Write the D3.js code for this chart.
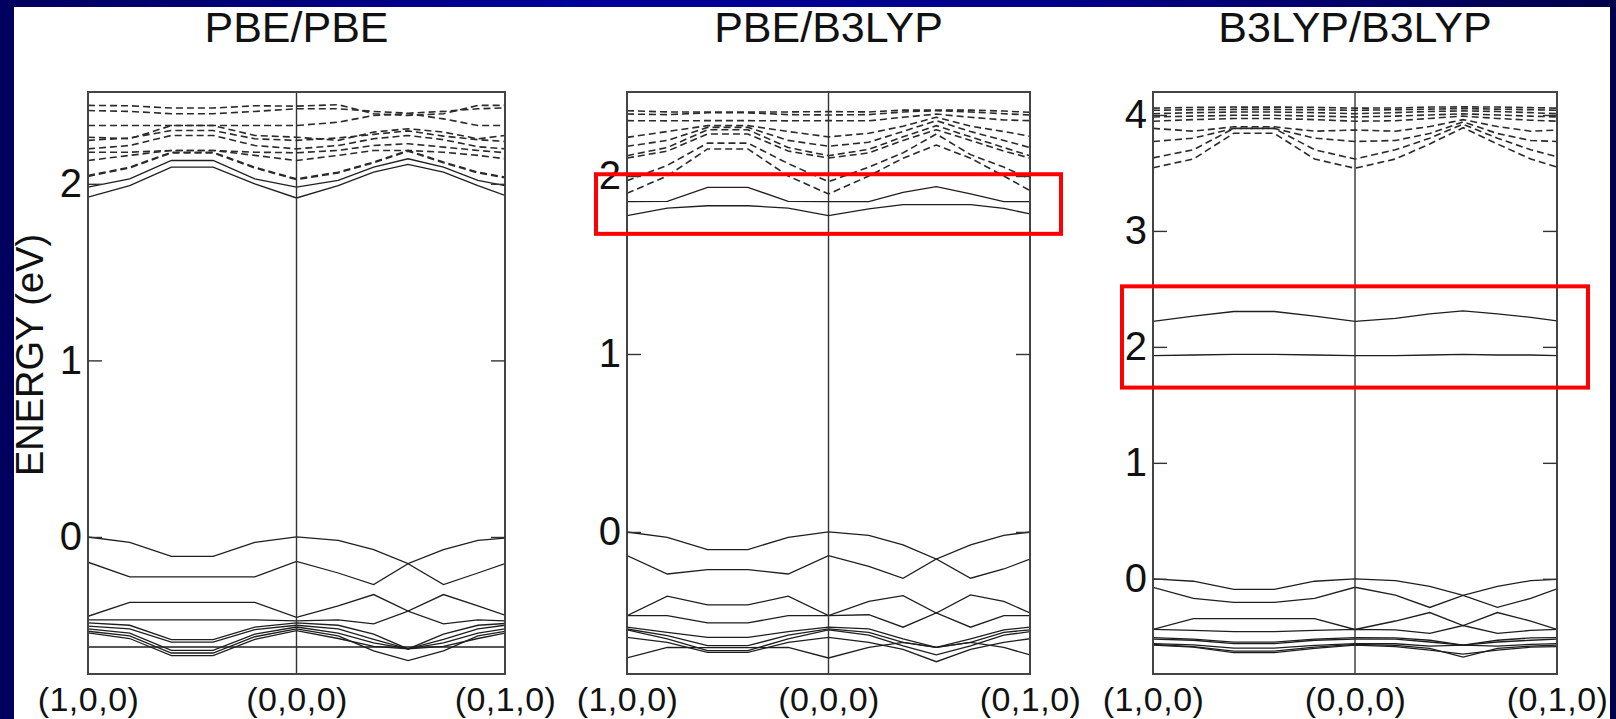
<!DOCTYPE html>
<html>
<head>
<meta charset="utf-8">
<script src="https://cdn.jsdelivr.net/npm/d3@7"></script>
<style>
  html, body { margin: 0; padding: 0; background: #000060; }
  svg { display: block; }
  text { font-family: "Liberation Sans", Arial, Helvetica, sans-serif; fill: #111; }
</style>
</head>
<body>
<svg id="chart" width="1616" height="719"></svg>
<script>
// ---------------------------------------------------------------
// Band structures along (1,0,0) -> (0,0,0) -> (0,1,0)
// k is measured along the path: first segment 0..1, second 1..2
// ---------------------------------------------------------------
const kPoints = [0, 0.2, 0.4, 0.6, 0.8, 1, 1.2, 1.37, 1.535, 1.705, 1.87, 2];
const kLabels = ["(1,0,0)", "(0,0,0)", "(0,1,0)"];
const kLabelPos = [0, 1, 2];

const panelTitles = ["PBE/PBE", "PBE/B3LYP", "B3LYP/B3LYP"];
const yDomains = [[-0.776, 2.52], [-0.798, 2.472], [-0.821, 4.198]];
const yTicks = [[0, 1, 2], [0, 1, 2], [0, 1, 2, 3, 4]];
const yLabel = "ENERGY (eV)";

// highlighted energy windows (eV) for panels 2 and 3
const highlightWindows = [null, [1.675, 2.01], [1.649, 2.522]];

// ---- PBE/PBE ----
const pbeValence = [
  [0, -0.03, -0.11, -0.11, -0.03, 0, -0.019, -0.072, -0.151, -0.072, -0.019, -0.006],
  [-0.143, -0.226, -0.226, -0.226, -0.226, -0.138, -0.204, -0.27, -0.151, -0.27, -0.204, -0.151],
  [-0.449, -0.37, -0.37, -0.37, -0.37, -0.455, -0.39, -0.326, -0.42, -0.326, -0.39, -0.443],
  [-0.47, -0.47, -0.47, -0.47, -0.47, -0.475, -0.47, -0.492, -0.42, -0.492, -0.47, -0.475],
  [-0.487, -0.5, -0.581, -0.581, -0.51, -0.487, -0.5, -0.55, -0.634, -0.55, -0.5, -0.49],
  [-0.505, -0.52, -0.596, -0.596, -0.525, -0.5, -0.52, -0.58, -0.634, -0.58, -0.52, -0.5],
  [-0.52, -0.545, -0.642, -0.642, -0.55, -0.51, -0.545, -0.6, -0.634, -0.6, -0.545, -0.52],
  [-0.534, -0.56, -0.657, -0.657, -0.565, -0.52, -0.56, -0.645, -0.7, -0.645, -0.56, -0.535],
  [-0.543, -0.575, -0.672, -0.672, -0.58, -0.53, -0.575, -0.62, -0.634, -0.62, -0.575, -0.545],
  [-0.623, -0.623, -0.623, -0.623, -0.623, -0.623, -0.623, -0.623, -0.623, -0.623, -0.623, -0.623]
];
const pbeGapBands = [
  [1.924, 1.99, 2.094, 2.094, 2.0, 1.92, 1.99, 2.066, 2.11, 2.066, 1.99, 1.934],
  [1.981, 2.028, 2.132, 2.132, 2.028, 1.981, 2.019, 2.094, 2.142, 2.094, 2.019, 1.99]
];
const pbeUpperBands = [
  [2.444, 2.442, 2.429, 2.429, 2.442, 2.44, 2.448, 2.397, 2.387, 2.397, 2.444, 2.444],
  [2.415, 2.41, 2.397, 2.397, 2.41, 2.425, 2.425, 2.41, 2.4, 2.41, 2.425, 2.43],
  [2.33, 2.33, 2.33, 2.33, 2.33, 2.33, 2.349, 2.387, 2.397, 2.368, 2.33, 2.33],
  [2.264, 2.255, 2.33, 2.33, 2.274, 2.264, 2.246, 2.293, 2.312, 2.293, 2.255, 2.274],
  [2.246, 2.26, 2.302, 2.302, 2.255, 2.246, 2.26, 2.28, 2.3, 2.27, 2.25, 2.24],
  [2.198, 2.217, 2.274, 2.274, 2.217, 2.198, 2.217, 2.255, 2.274, 2.25, 2.21, 2.198],
  [2.179, 2.179, 2.189, 2.189, 2.179, 2.176, 2.189, 2.217, 2.227, 2.208, 2.189, 2.176],
  [2.132, 2.161, 2.189, 2.189, 2.161, 2.132, 2.161, 2.189, 2.189, 2.179, 2.161, 2.142],
  [2.047, 2.094, 2.179, 2.179, 2.094, 2.028, 2.066, 2.123, 2.189, 2.123, 2.066, 2.038],
  [2.042, 2.09, 2.175, 2.175, 2.09, 2.024, 2.062, 2.119, 2.185, 2.119, 2.062, 2.034]
];

// ---- PBE/B3LYP ----
const mixValence = [
  [0, -0.03, -0.099, -0.099, -0.03, 0, -0.019, -0.073, -0.152, -0.073, -0.019, 0],
  [-0.133, -0.236, -0.212, -0.212, -0.236, -0.133, -0.193, -0.26, -0.152, -0.26, -0.208, -0.152],
  [-0.47, -0.361, -0.41, -0.41, -0.361, -0.47, -0.39, -0.358, -0.455, -0.354, -0.39, -0.455],
  [-0.47, -0.47, -0.511, -0.511, -0.47, -0.47, -0.465, -0.535, -0.455, -0.535, -0.47, -0.47],
  [-0.535, -0.564, -0.592, -0.592, -0.56, -0.535, -0.545, -0.6, -0.648, -0.6, -0.55, -0.535],
  [-0.545, -0.582, -0.639, -0.639, -0.58, -0.545, -0.564, -0.62, -0.648, -0.62, -0.564, -0.55],
  [-0.55, -0.6, -0.667, -0.667, -0.6, -0.55, -0.58, -0.64, -0.69, -0.64, -0.58, -0.56],
  [-0.592, -0.62, -0.676, -0.676, -0.62, -0.592, -0.62, -0.66, -0.729, -0.66, -0.62, -0.6],
  [-0.708, -0.648, -0.65, -0.65, -0.648, -0.708, -0.648, -0.62, -0.648, -0.62, -0.648, -0.691]
];
const mixGapBands = [
  [1.856, 1.858, 1.936, 1.936, 1.858, 1.856, 1.856, 1.908, 1.94, 1.899, 1.856, 1.856],
  [1.777, 1.82, 1.833, 1.833, 1.82, 1.777, 1.815, 1.839, 1.839, 1.839, 1.818, 1.787]
];
const mixUpperBands = [
  [2.367, 2.36, 2.36, 2.36, 2.36, 2.362, 2.36, 2.37, 2.37, 2.37, 2.365, 2.358],
  [2.348, 2.345, 2.355, 2.355, 2.345, 2.343, 2.345, 2.36, 2.367, 2.36, 2.35, 2.343],
  [2.311, 2.31, 2.311, 2.311, 2.31, 2.311, 2.31, 2.33, 2.348, 2.33, 2.315, 2.311],
  [2.217, 2.25, 2.283, 2.283, 2.25, 2.22, 2.24, 2.28, 2.33, 2.28, 2.25, 2.223],
  [2.167, 2.2, 2.273, 2.273, 2.2, 2.167, 2.19, 2.25, 2.311, 2.25, 2.2, 2.16],
  [2.114, 2.16, 2.26, 2.26, 2.16, 2.114, 2.15, 2.22, 2.283, 2.22, 2.16, 2.114],
  [2.101, 2.14, 2.236, 2.236, 2.14, 2.101, 2.13, 2.2, 2.26, 2.2, 2.14, 2.101],
  [1.974, 2.06, 2.185, 2.185, 2.07, 1.968, 2.05, 2.13, 2.236, 2.12, 2.05, 1.983],
  [1.903, 2.0, 2.152, 2.152, 2.0, 1.899, 2.0, 2.1, 2.174, 2.1, 2.0, 1.918]
];

// ---- B3LYP/B3LYP ----
const hybValence = [
  [0, -0.021, -0.091, -0.091, -0.021, 0, -0.016, -0.065, -0.143, -0.065, -0.016, -0.005],
  [-0.073, -0.169, -0.203, -0.203, -0.169, -0.073, -0.14, -0.247, -0.143, -0.247, -0.169, -0.086],
  [-0.437, -0.343, -0.343, -0.343, -0.343, -0.437, -0.364, -0.291, -0.403, -0.291, -0.364, -0.437],
  [-0.437, -0.445, -0.455, -0.455, -0.445, -0.437, -0.44, -0.47, -0.403, -0.47, -0.445, -0.437],
  [-0.507, -0.52, -0.546, -0.546, -0.52, -0.507, -0.51, -0.53, -0.572, -0.53, -0.51, -0.507],
  [-0.52, -0.53, -0.559, -0.559, -0.53, -0.52, -0.52, -0.545, -0.572, -0.545, -0.53, -0.52],
  [-0.559, -0.57, -0.598, -0.598, -0.575, -0.559, -0.56, -0.58, -0.572, -0.58, -0.565, -0.559],
  [-0.565, -0.585, -0.624, -0.624, -0.59, -0.565, -0.575, -0.6, -0.676, -0.6, -0.58, -0.572],
  [-0.572, -0.59, -0.637, -0.637, -0.6, -0.572, -0.585, -0.615, -0.65, -0.615, -0.59, -0.585]
];
const hybGapBands = [
  [2.22, 2.265, 2.305, 2.305, 2.265, 2.22, 2.245, 2.285, 2.31, 2.285, 2.255, 2.225],
  [1.925, 1.93, 1.935, 1.935, 1.93, 1.925, 1.925, 1.93, 1.935, 1.93, 1.93, 1.925]
];
const hybUpperBands = [
  [4.059, 4.065, 4.068, 4.068, 4.065, 4.059, 4.06, 4.068, 4.07, 4.068, 4.063, 4.059],
  [4.04, 4.045, 4.048, 4.048, 4.045, 4.04, 4.045, 4.05, 4.055, 4.05, 4.045, 4.04],
  [4.011, 4.02, 4.025, 4.025, 4.02, 4.011, 4.02, 4.03, 4.035, 4.03, 4.02, 4.011],
  [3.983, 3.99, 3.997, 3.997, 3.99, 3.983, 3.99, 4.0, 4.01, 4.0, 3.99, 3.983],
  [3.946, 3.96, 3.969, 3.969, 3.96, 3.946, 3.95, 3.97, 3.99, 3.97, 3.955, 3.946],
  [3.884, 3.86, 3.898, 3.898, 3.86, 3.87, 3.86, 3.9, 3.96, 3.9, 3.86, 3.87],
  [3.771, 3.8, 3.884, 3.884, 3.8, 3.771, 3.78, 3.84, 3.94, 3.84, 3.78, 3.771],
  [3.63, 3.7, 3.884, 3.884, 3.7, 3.62, 3.7, 3.8, 3.92, 3.8, 3.7, 3.64],
  [3.545, 3.62, 3.842, 3.842, 3.62, 3.54, 3.62, 3.75, 3.89, 3.75, 3.62, 3.55]
];

const panelBands = [
  { valence: pbeValence, gap: pbeGapBands, upper: pbeUpperBands },
  { valence: mixValence, gap: mixGapBands, upper: mixUpperBands },
  { valence: hybValence, gap: hybGapBands, upper: hybUpperBands }
];

// ---------------------------------------------------------------
// Layout
// ---------------------------------------------------------------
const W = 1616, H = 719;
const frames = [[88, 505], [627, 1030], [1153, 1557]];
const frameTop = 92, frameBottom = 674;

const svg = d3.select("#chart");
const defs = svg.append("defs");

const grad = defs.append("linearGradient").attr("id", "bgGrad")
  .attr("x1", "0").attr("x2", "1").attr("y1", "0").attr("y2", "0");
grad.append("stop").attr("offset", "0%").attr("stop-color", "#00005e");
grad.append("stop").attr("offset", "35%").attr("stop-color", "#00009a");
grad.append("stop").attr("offset", "65%").attr("stop-color", "#00008a");
grad.append("stop").attr("offset", "100%").attr("stop-color", "#00004a");

svg.append("rect").attr("width", W).attr("height", H).attr("fill", "url(#bgGrad)");
svg.append("rect").attr("x", 14).attr("y", 7).attr("width", 1596).attr("height", H - 7).attr("fill", "#ffffff");

// axis title on the left
svg.append("text")
  .attr("transform", "translate(43,355) rotate(-90)")
  .attr("text-anchor", "middle")
  .style("font-size", "38px")
  .text(yLabel);

const line = d3.line();

panelTitles.forEach((title, p) => {
  const [x0, x1] = frames[p];
  const x = d3.scaleLinear().domain([0, 2]).range([x0, x1]);
  const y = d3.scaleLinear().domain(yDomains[p]).range([frameBottom, frameTop]);
  const g = svg.append("g");

  defs.append("clipPath").attr("id", "clip" + p)
    .append("rect").attr("x", x0).attr("y", frameTop)
    .attr("width", x1 - x0).attr("height", frameBottom - frameTop);

  // title
  g.append("text")
    .attr("x", x(1)).attr("y", 42)
    .attr("text-anchor", "middle")
    .style("font-size", "43px")
    .text(title);

  const plot = g.append("g").attr("clip-path", "url(#clip" + p + ")");
  const bandPath = band => line(band.map((e, i) => [x(kPoints[i]), y(e)]));

  // occupied bands and the two lowest empty bands: solid
  plot.selectAll("path.solid")
    .data(panelBands[p].valence.concat(panelBands[p].gap))
    .join("path")
    .attr("class", "solid")
    .attr("d", bandPath)
    .attr("fill", "none")
    .attr("stroke", "#1e1e1e")
    .attr("stroke-width", 1.3);

  // higher empty bands: dashed
  plot.selectAll("path.dashed")
    .data(panelBands[p].upper)
    .join("path")
    .attr("class", "dashed")
    .attr("d", bandPath)
    .attr("fill", "none")
    .attr("stroke", "#2a2a2a")
    .attr("stroke-width", 1.6)
    .attr("stroke-dasharray", "7,4");

  // high-symmetry line at (0,0,0)
  g.append("line")
    .attr("x1", x(1)).attr("x2", x(1))
    .attr("y1", frameTop).attr("y2", frameBottom)
    .attr("stroke", "#333").attr("stroke-width", 1.4);

  // frame
  g.append("rect")
    .attr("x", x0).attr("y", frameTop)
    .attr("width", x1 - x0).attr("height", frameBottom - frameTop)
    .attr("fill", "none").attr("stroke", "#444").attr("stroke-width", 2);

  // energy axis: labels on the left, inward ticks on both sides
  const left = g.append("g").attr("transform", `translate(${x0},0)`)
    .call(d3.axisLeft(y).tickValues(yTicks[p]).tickSize(-14).tickPadding(6).tickFormat(d3.format("d")));
  const right = g.append("g").attr("transform", `translate(${x1},0)`)
    .call(d3.axisRight(y).tickValues(yTicks[p]).tickSize(-14).tickFormat(""));
  [left, right].forEach(a => {
    a.select(".domain").remove();
    a.selectAll(".tick line").attr("stroke", "#333").attr("stroke-width", 1.4);
  });
  left.selectAll(".tick text")
    .attr("fill", "#111")
    .style("font-size", "40px")
    .style("font-family", "\"Liberation Sans\", Arial, sans-serif");

  // k-path labels
  const bottom = g.append("g").attr("transform", `translate(0,${frameBottom})`)
    .call(d3.axisBottom(x).tickValues(kLabelPos).tickSize(0).tickPadding(13)
      .tickFormat((d, i) => kLabels[i]));
  bottom.select(".domain").remove();
  bottom.selectAll(".tick text")
    .attr("fill", "#111")
    .style("font-size", "34px")
    .style("letter-spacing", "0.5px")
    .style("font-family", "\"Liberation Sans\", Arial, sans-serif");

  // highlighted energy window
  const win = highlightWindows[p];
  if (win) {
    g.append("rect")
      .attr("x", x0 - 31).attr("width", (x1 - x0) + 62)
      .attr("y", y(win[1])).attr("height", y(win[0]) - y(win[1]))
      .attr("fill", "none").attr("stroke", "#ff0000").attr("stroke-width", 4);
  }
});
</script>
</body>
</html>
